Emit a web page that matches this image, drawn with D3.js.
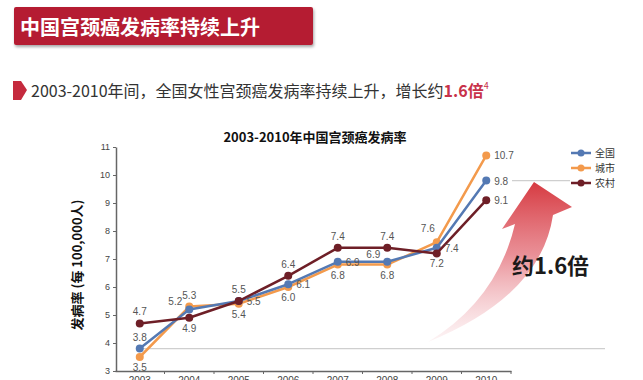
<!DOCTYPE html>
<html>
<head>
<meta charset="utf-8">
<script src="https://cdn.jsdelivr.net/npm/d3@7"></script>
<style>
  body { margin: 0; background: #fff; }
  svg { display: block; font-family: "Noto Sans CJK SC", "Noto Sans", sans-serif; }
</style>
</head>
<body>
<svg id="chart" width="643" height="380"></svg>
<script>
const years = ["2003", "2004", "2005", "2006", "2007", "2008", "2009", "2010"];
const national = [3.8, 5.2, 5.5, 6.1, 6.9, 6.9, 7.4, 9.8];
const urban = [3.5, 5.3, 5.4, 6.0, 6.8, 6.8, 7.6, 10.7];
const rural = [4.7, 4.9, 5.5, 6.4, 7.4, 7.4, 7.2, 9.1];
const yTicks = [3, 4, 5, 6, 7, 8, 9, 10, 11];

// where each value label sits relative to its point
const placeNational = ["above", "left", "right", "right", "right", "left", "right", "right"];
const placeUrban = ["below", "above", "below", "below", "below", "below", "aboveleft", "right"];
const placeRural = ["above", "below", "above", "above", "above", "above", "below", "right"];

const series = [
  { name: "城市", values: urban, color: "#f39a4c", place: placeUrban },
  { name: "全国", values: national, color: "#5479b3", place: placeNational },
  { name: "农村", values: rural, color: "#6e1f27", place: placeRural },
];

const svg = d3.select("#chart");
const defs = svg.append("defs");

// header banner
const sh = defs.append("filter").attr("id", "shadow").attr("x", "-5%").attr("y", "-20%").attr("width", "110%").attr("height", "150%");
sh.append("feDropShadow").attr("dx", 1).attr("dy", 2).attr("stdDeviation", 1.5).attr("flood-color", "#000").attr("flood-opacity", 0.35);
svg.append("rect").attr("x", 14).attr("y", 7).attr("width", 299).attr("height", 38).attr("rx", 2)
  .attr("fill", "#b51f33").attr("filter", "url(#shadow)");
svg.append("text").attr("x", 20).attr("y", 35).attr("fill", "#fff").attr("font-size", 20).attr("font-weight", "bold")
  .text("中国宫颈癌发病率持续上升");

// subtitle
svg.append("path").attr("d", "M13,81 L21,81 L27,90 L21,100 L13,100 Z").attr("fill", "#c52a3e");
const sub = svg.append("text").attr("x", 31).attr("y", 97).attr("font-size", 16).attr("fill", "#333");
sub.append("tspan").text("2003-2010年间，全国女性宫颈癌发病率持续上升，增长约");
sub.append("tspan").attr("fill", "#c8324a").attr("font-weight", "bold").text("1.6倍");
sub.append("tspan").attr("fill", "#c8324a").attr("font-size", 9).attr("dy", -8).text("4");

// chart area
const x = d3.scaleBand().domain(years).range([115, 511]);
const y = d3.scaleLinear().domain([3, 11]).range([371, 147]);
const cx = (i) => x(years[i]) + x.bandwidth() / 2;

svg.append("text").attr("x", 315).attr("y", 142).attr("text-anchor", "middle")
  .attr("font-size", 13).attr("font-weight", "bold").attr("fill", "#111")
  .text("2003-2010年中国宫颈癌发病率");

svg.append("text").attr("transform", `translate(82,${(y(3) + y(11)) / 2 + 6}) rotate(-90)`)
  .attr("text-anchor", "middle").attr("font-size", 13).attr("font-weight", "bold").attr("fill", "#111")
  .text("发病率 (每 100,000人)");

// reference lines
svg.append("line").attr("x1", cx(0)).attr("x2", 605).attr("y1", y(national[0])).attr("y2", y(national[0]))
  .attr("stroke", "#cfcfcf").attr("stroke-width", 1.2);
svg.append("line").attr("x1", 512).attr("x2", 570).attr("y1", y(national[7])).attr("y2", y(national[7]))
  .attr("stroke", "#cfcfcf").attr("stroke-width", 1.2);

// curved arrow
const grad = defs.append("linearGradient").attr("id", "arrowGrad").attr("x1", 0).attr("y1", 1).attr("x2", 0).attr("y2", 0);
grad.append("stop").attr("offset", "0%").attr("stop-color", "#f1b6bd").attr("stop-opacity", 0.15);
grad.append("stop").attr("offset", "55%").attr("stop-color", "#e4737c").attr("stop-opacity", 0.8);
grad.append("stop").attr("offset", "100%").attr("stop-color", "#d63a41");
svg.append("path")
  .attr("d", "M428,342 Q497,300 515,224 L502,229 L534,182 L572,207 L553,215 Q541,296 428,342 Z")
  .attr("fill", "url(#arrowGrad)");
svg.append("text").attr("x", 512).attr("y", 274).attr("font-size", 22).attr("font-weight", "bold").attr("fill", "#1a1a1a")
  .text("约1.6倍");

// axes
const yAxis = svg.append("g").attr("transform", "translate(116,0)")
  .call(d3.axisLeft(y).tickValues(yTicks).tickSize(3).tickSizeOuter(0));
const xAxis = svg.append("g").attr("transform", `translate(0,${y(3)})`)
  .call(d3.axisBottom(x).tickSize(3).tickSizeOuter(0));
[yAxis, xAxis].forEach((a) => {
  a.select(".domain").attr("stroke", "#666").attr("stroke-width", 1.5);
  a.selectAll(".tick line").attr("stroke", "#666");
  a.selectAll(".tick text").attr("fill", "#444").attr("font-size", 9).attr("font-family", "Liberation Sans, sans-serif");
});
xAxis.selectAll(".tick text").attr("font-size", 10);
// x ticks sit on band boundaries
xAxis.selectAll(".tick line").attr("transform", `translate(${x.bandwidth() / 2},0)`);

// lines and markers
const line = d3.line().x((d, i) => cx(i)).y((d) => y(d));
series.forEach((s) => {
  svg.append("path").datum(s.values).attr("d", line).attr("fill", "none")
    .attr("stroke", s.color).attr("stroke-width", 2.5).attr("stroke-linejoin", "round");
  svg.selectAll(null).data(s.values).join("circle")
    .attr("cx", (d, i) => cx(i)).attr("cy", (d) => y(d)).attr("r", 4).attr("fill", s.color);
});

// value labels
const offsets = {
  above: [0, -8, "middle"], below: [0, 14, "middle"], left: [-7, -4, "end"],
  right: [8, 4, "start"], aboveleft: [-2, -10, "end"],
};
series.forEach((s) => {
  svg.selectAll(null).data(s.values).join("text")
    .attr("x", (d, i) => cx(i) + offsets[s.place[i]][0])
    .attr("y", (d, i) => y(d) + offsets[s.place[i]][1])
    .attr("text-anchor", (d, i) => offsets[s.place[i]][2])
    .attr("font-size", 10).attr("fill", "#555").attr("font-family", "Liberation Sans, sans-serif")
    .text((d) => d.toFixed(1));
});

// legend
const legendOrder = [series[1], series[0], series[2]];
const lg = svg.append("g").attr("transform", "translate(571,153)");
legendOrder.forEach((s, i) => {
  const g = lg.append("g").attr("transform", `translate(0,${i * 15})`);
  g.append("line").attr("x1", 0).attr("x2", 20).attr("stroke", s.color).attr("stroke-width", 2.5);
  g.append("circle").attr("cx", 10).attr("r", 3.5).attr("fill", s.color);
  g.append("text").attr("x", 24).attr("y", 4).attr("font-size", 10).attr("fill", "#333").text(s.name);
});
</script>
</body>
</html>
